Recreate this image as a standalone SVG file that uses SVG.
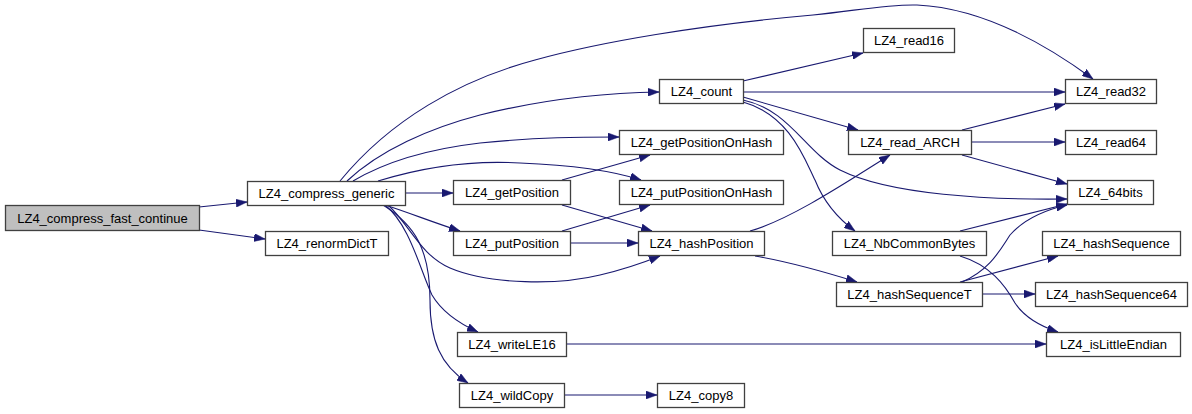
<svg xmlns="http://www.w3.org/2000/svg" width="1192" height="414" viewBox="0 0 1192 414">
<style>
.n rect{fill:#ffffff;stroke:#404040;stroke-width:1.3}
.n text{font-family:"Liberation Sans",Arial,sans-serif;font-size:13px;fill:#000;text-anchor:middle}
.e path{fill:none;stroke:#191970;stroke-width:1.1;marker-end:url(#ah)}
</style>
<defs>
<marker id="ah" markerWidth="11" markerHeight="8" refX="11" refY="4" orient="auto" markerUnits="userSpaceOnUse">
<path d="M0,0 L11,4 L0,8 Z" fill="#191970" stroke="#191970" stroke-width="0.5"/>
</marker>
</defs>
<rect width="1192" height="414" fill="#ffffff"/>
<g class="e" id="edges">
<path d="M199,207 L247,202"/>
<path d="M199,230 L265,239"/>
<path d="M340,181 C390,120 460,80 535,60 C600,42 700,25 813,15 C860,10 890,4 917,5 C980,8 1040,40 1093,79"/>
<path d="M347,181 C380,150 430,128 480,115 C540,100 600,93 659,92"/>
<path d="M353,181 C380,165 420,150 480,143 C540,137 580,137 619,137"/>
<path d="M378,181 C420,168 470,160 520,163 C570,165 610,170 641,180"/>
<path d="M405,193 L453,193"/>
<path d="M385,205 C410,213 432,222 460,231"/>
<path d="M388,205 C410,225 420,255 450,268 C490,285 560,285 600,275 C630,268 645,262 660,256"/>
<path d="M385,205 C410,225 420,270 432,295 C442,312 458,323 478,332"/>
<path d="M383,205 C415,225 430,250 430,300 C430,340 440,365 468,383"/>
<path d="M743,81 L863,53"/>
<path d="M743,92 L1065,92"/>
<path d="M743,97 L858,130"/>
<path d="M743,100 C790,110 805,152 840,170 C890,195 990,200 1067,199"/>
<path d="M743,102 C790,115 805,160 815,180 C825,205 840,220 855,231"/>
<path d="M962,130 L1065,104"/>
<path d="M971,142 L1065,142"/>
<path d="M962,155 L1067,184"/>
<path d="M562,180 L650,155"/>
<path d="M562,205 L652,231"/>
<path d="M562,231 L650,205"/>
<path d="M570,243 L638,243"/>
<path d="M750,231 C790,220 850,180 890,155"/>
<path d="M755,256 C790,262 825,272 857,282"/>
<path d="M960,231 L1067,204"/>
<path d="M960,256 C990,265 1005,285 1015,303 C1025,318 1040,326 1058,332"/>
<path d="M960,282 L1058,256"/>
<path d="M982,294 L1035,294"/>
<path d="M962,282 C990,270 1000,250 1010,235 C1025,218 1045,210 1067,205"/>
<path d="M566,344 L1046,344"/>
<path d="M564,395 L657,395"/>
</g>
<g class="n" id="node1"><rect x="5.5" y="205.5" width="194" height="25" style="fill:#bfbfbf"/><text x="102.5" y="223">LZ4_compress_fast_continue</text></g>
<g class="n" id="node2"><rect x="247.5" y="181.5" width="158" height="24"/><text x="326.5" y="198">LZ4_compress_generic</text></g>
<g class="n" id="node3"><rect x="265.5" y="231.5" width="123" height="24"/><text x="327" y="248">LZ4_renormDictT</text></g>
<g class="n" id="node4"><rect x="659.5" y="79.5" width="84" height="24"/><text x="701.5" y="96">LZ4_count</text></g>
<g class="n" id="node5"><rect x="619.5" y="130.5" width="164" height="24"/><text x="701.5" y="147">LZ4_getPositionOnHash</text></g>
<g class="n" id="node6"><rect x="453.5" y="180.5" width="117" height="24"/><text x="512" y="197">LZ4_getPosition</text></g>
<g class="n" id="node7"><rect x="619.5" y="180.5" width="164" height="24"/><text x="701.5" y="197">LZ4_putPositionOnHash</text></g>
<g class="n" id="node8"><rect x="453.5" y="231.5" width="117" height="24"/><text x="512" y="248">LZ4_putPosition</text></g>
<g class="n" id="node9"><rect x="638.5" y="231.5" width="126" height="24"/><text x="701.5" y="248">LZ4_hashPosition</text></g>
<g class="n" id="node10"><rect x="457.5" y="332.5" width="109" height="24"/><text x="512" y="349">LZ4_writeLE16</text></g>
<g class="n" id="node11"><rect x="459.5" y="383.5" width="105" height="24"/><text x="512" y="400">LZ4_wildCopy</text></g>
<g class="n" id="node12"><rect x="657.5" y="383.5" width="87" height="24"/><text x="701" y="400">LZ4_copy8</text></g>
<g class="n" id="node13"><rect x="863.5" y="28.5" width="91" height="24"/><text x="909" y="45">LZ4_read16</text></g>
<g class="n" id="node14"><rect x="1065.5" y="79.5" width="91" height="24"/><text x="1111" y="96">LZ4_read32</text></g>
<g class="n" id="node15"><rect x="848.5" y="130.5" width="123" height="24"/><text x="910" y="147">LZ4_read_ARCH</text></g>
<g class="n" id="node16"><rect x="1065.5" y="130.5" width="91" height="24"/><text x="1111" y="147">LZ4_read64</text></g>
<g class="n" id="node17"><rect x="1067.5" y="180.5" width="86" height="24"/><text x="1110.5" y="197">LZ4_64bits</text></g>
<g class="n" id="node18"><rect x="832.5" y="231.5" width="154" height="24"/><text x="909.5" y="248">LZ4_NbCommonBytes</text></g>
<g class="n" id="node19"><rect x="1042.5" y="231.5" width="138" height="24"/><text x="1111.5" y="248">LZ4_hashSequence</text></g>
<g class="n" id="node20"><rect x="836.5" y="282.5" width="146" height="24"/><text x="909.5" y="299">LZ4_hashSequenceT</text></g>
<g class="n" id="node21"><rect x="1035.5" y="282.5" width="152" height="24"/><text x="1111.5" y="299">LZ4_hashSequence64</text></g>
<g class="n" id="node22"><rect x="1046.5" y="332.5" width="134" height="24"/><text x="1113.5" y="349">LZ4_isLittleEndian</text></g>
</svg>
